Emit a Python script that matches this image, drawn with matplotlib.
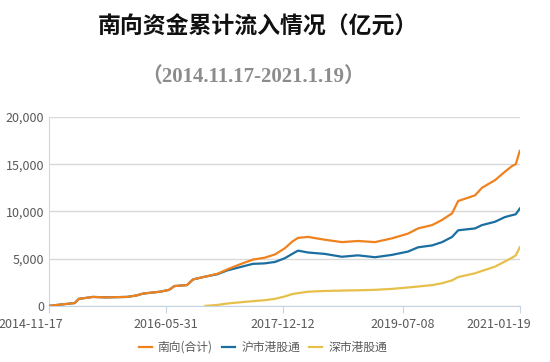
import matplotlib
matplotlib.use("Agg")
import matplotlib.pyplot as plt
import matplotlib.transforms as mtrans
import numpy as np
import pandas as pd

plt.rcParams['font.family'] = ['Noto Sans CJK SC', 'DejaVu Sans']

# dados (aprox.)
datas = ["2014-11-17", "2015-01-15", "2015-03-20", "2015-04-10", "2015-05-15",
         "2015-06-16", "2015-08-15", "2015-11-26", "2016-01-10", "2016-02-10",
         "2016-05-02", "2016-06-15", "2016-07-10", "2016-09-08", "2016-10-07",
         "2016-12-05", "2017-02-01", "2017-03-19", "2017-05-20", "2017-07-21",
         "2017-09-15", "2017-11-04", "2017-12-21", "2018-01-25", "2018-02-22",
         "2018-04-11", "2018-07-01", "2018-09-20", "2018-12-06", "2019-02-26",
         "2019-05-18", "2019-08-03", "2019-09-20", "2019-11-26", "2020-01-13",
         "2020-03-01", "2020-03-30", "2020-06-19", "2020-07-22", "2020-09-22",
         "2020-11-09", "2020-12-13", "2020-12-31", "2021-01-19"]
nan = np.nan
total = [0, 150, 300, 750, 850, 950, 900, 950, 1100, 1300,
         1500, 1700, 2100, 2200, 2800, 3100, 3400, 3850, 4400, 4900,
         5100, 5450, 6100, 6800, 7200, 7300, 7000, 6750, 6870, 6750,
         7150, 7650, 8200, 8550, 9100, 9800, 11100, 11700, 12500, 13300,
         14200, 14800, 15000, 16400]
hu = [0, 150, 300, 750, 850, 950, 900, 950, 1100, 1300,
      1500, 1700, 2100, 2200, 2800, 3100, 3350, 3750, 4100, 4450,
      4500, 4650, 5050, 5500, 5850, 5650, 5500, 5200, 5350, 5150,
      5400, 5750, 6200, 6400, 6750, 7300, 8000, 8200, 8550, 8900,
      9400, 9600, 9700, 10300]
shen = [nan] * 15 + [0, 100, 250, 380, 500,
                     600, 750, 1000, 1250, 1350, 1500, 1580, 1620, 1650, 1700,
                     1800, 1950, 2050, 2200, 2400, 2700, 3050, 3450, 3700, 4150,
                     4700, 5100, 5350, 6200]
series = ["南向(合计)", "沪市港股通", "深市港股通"]
cores = ["#f0821e", "#1b6ea0", "#e6c04a"]
xticks = ["2014-11-17", "2016-05-31", "2017-12-12", "2019-07-08", "2021-01-19"]

d = pd.to_datetime(datas)
fig = plt.figure(figsize=(5.5, 3.62), dpi=100)
ax = fig.add_axes([0.089, 0.155, 0.856, 0.522])
# total por cima das outras
for vals, nome, c, z in zip([total, hu, shen], series, cores, [4, 3, 2]):
    ax.plot(d, vals, color=c, lw=1.6, label=nome, zorder=z)

xt = pd.to_datetime(xticks)
ax.set_xlim(xt[0], xt[-1])
ax.set_xticks(xt)
ax.set_xticklabels(xticks)
ax.set_ylim(0, 20000)
ax.set_yticks(range(0, 20001, 5000))
ax.yaxis.set_major_formatter(matplotlib.ticker.FuncFormatter(lambda v, p: f"{int(v):,}"))
ax.grid(axis="y", color="#d9d9d9", lw=1)
ax.set_axisbelow(True)
for s in ["top", "right"]:
    ax.spines[s].set_visible(False)
ax.spines["left"].set_color("#d0d7e0")
ax.spines["bottom"].set_color("#c5d3e3")
ax.tick_params(axis="x", colors="#c5d3e3", labelcolor="#595959", labelsize=9, length=5)
ax.tick_params(axis="y", length=0, labelcolor="#595959", labelsize=9)

# primeiro e ultimo rotulo empurrados para dentro, como no original
lbls = ax.get_xticklabels()
for t, px in ((lbls[0], -18), (lbls[-1], -21)):
    t.set_transform(t.get_transform() +
                    mtrans.ScaledTranslation(px / 100, 0, fig.dpi_scale_trans))

fig.text(0.468, 0.925, "南向资金累计流入情况（亿元）", ha="center", va="center",
         fontsize=16.5, fontweight="bold", color="#111111")
fig.text(0.46, 0.787, "（2014.11.17-2021.1.19）", ha="center", va="center",
         fontsize=15, fontweight="bold", color="#8c8c8c",
         family=["Liberation Serif", "Noto Sans CJK SC"])

fig.legend(loc="center", bbox_to_anchor=(0.478, 0.04), ncol=3, frameon=False,
           fontsize=8.5, handlelength=1.1, columnspacing=0.8, handletextpad=0.5,
           labelcolor="#595959")
fig.savefig("out.png", dpi=100)
